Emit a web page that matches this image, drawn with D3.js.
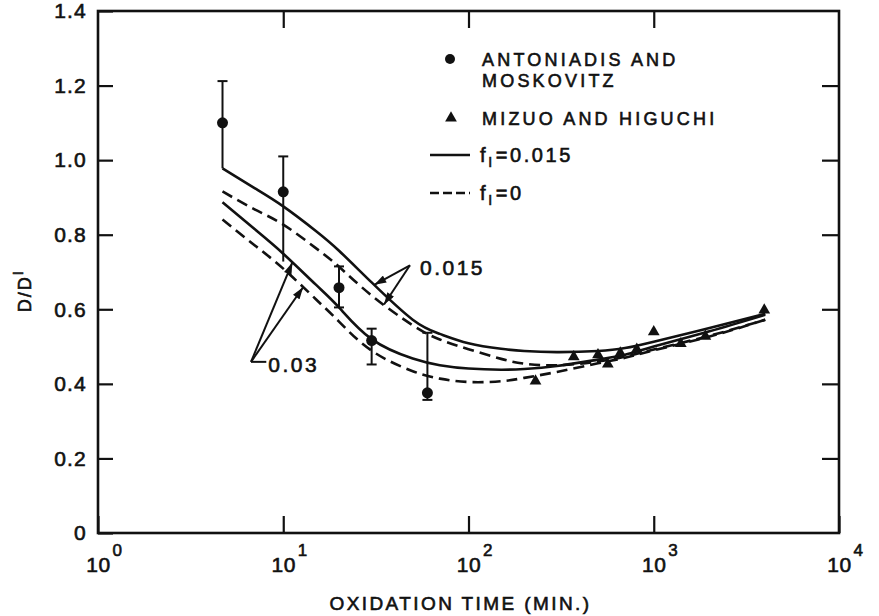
<!DOCTYPE html>
<html>
<head>
<meta charset="utf-8">
<script src="https://cdn.jsdelivr.net/npm/d3@7"></script>
<style>
    body { margin: 0; background: #fff; }
    text { font-family: "Liberation Sans", Arial, sans-serif; fill: #111; stroke: #111; stroke-width: 0.6; }
</style>
</head>
<body>
<div id="chart-area"></div>
<script>
// oxidation time (min.) at which the model curves are sampled
const times = [4.7, 7, 10, 15, 20, 30, 50, 70, 100, 150, 200, 300, 500, 700, 1000, 2000, 4000];

// model curves
const solid015 = [0.978, 0.925, 0.876, 0.810, 0.757, 0.672, 0.572, 0.534, 0.509, 0.494, 0.488, 0.485, 0.488, 0.496, 0.513, 0.550, 0.588];
const dashed015 = [0.916, 0.868, 0.827, 0.764, 0.714, 0.637, 0.557, 0.519, 0.493, 0.467, 0.454, 0.450, 0.460, 0.473, 0.492, 0.529, 0.572];
const solid03 = [0.887, 0.815, 0.749, 0.666, 0.605, 0.520, 0.468, 0.450, 0.441, 0.438, 0.440, 0.448, 0.465, 0.478, 0.500, 0.541, 0.585];
const dashed03 = [0.841, 0.772, 0.709, 0.627, 0.567, 0.489, 0.434, 0.414, 0.405, 0.407, 0.416, 0.432, 0.455, 0.470, 0.490, 0.527, 0.572];

// Antoniadis and Moskovitz, with error bars
const amTimes = [4.7, 10, 20, 30, 60];
const amValues = [1.10, 0.915, 0.658, 0.516, 0.376];
const amHigh = [1.212, 1.010, 0.715, 0.548, 0.537];
const amLow = [0.978, 0.728, 0.605, 0.452, 0.357];
const amLowCap = [false, false, true, true, true];

// Mizuo and Higuchi
const mhTimes = [230, 370, 500, 565, 660, 810, 1000, 1400, 1900, 3950];
const mhValues = [0.405, 0.470, 0.475, 0.450, 0.480, 0.490, 0.537, 0.505, 0.525, 0.595];

const yTicks = [0, 0.2, 0.4, 0.6, 0.8, 1.0, 1.2, 1.4];
const xTicks = [1, 10, 100, 1000, 10000];
const xExponents = ['0', '1', '2', '3', '4'];

window.addEventListener('DOMContentLoaded', () => {

    const margin = { top: 11, right: 40, bottom: 83, left: 98 };
    const width = 879 - margin.left - margin.right;
    const height = 616 - margin.top - margin.bottom;

    const svg = d3.select('#chart-area')
        .append('svg')
        .attr('width', 879)
        .attr('height', 616);

    svg.append('defs').append('marker')
        .attr('id', 'arrow')
        .attr('viewBox', '0 0 12 8')
        .attr('refX', 12)
        .attr('refY', 4)
        .attr('markerWidth', 13)
        .attr('markerHeight', 8)
        .attr('markerUnits', 'userSpaceOnUse')
        .attr('orient', 'auto')
        .append('path')
            .attr('d', 'M0,0 L12,4 L0,8 Z')
            .attr('fill', '#111');

    const chart = svg.append('g')
        .attr('transform', `translate(${margin.left},${margin.top})`);

    const x = d3.scaleLog().domain([1, 1e4]).range([0, width]);
    const y = d3.scaleLinear().domain([0, 1.4]).range([height, 0]);

    // axes, ticks pointing inward
    const yFmt = (d) => d === 0 ? '0' : d3.format('.1f')(d);

    const left = chart.append('g')
        .call(d3.axisLeft(y).tickValues(yTicks).tickSizeInner(-15).tickSizeOuter(0).tickPadding(11).tickFormat(yFmt));
    left.selectAll('text').attr('font-size', 21).attr('letter-spacing', 1.2).attr('fill', '#111');

    chart.append('g')
        .attr('transform', `translate(${width},0)`)
        .call(d3.axisRight(y).tickValues(yTicks.slice(1, -1)).tickSizeInner(-17).tickSizeOuter(0).tickFormat(''));

    const bottom = chart.append('g')
        .attr('transform', `translate(0,${height})`)
        .call(d3.axisBottom(x).tickValues(xTicks).tickSizeInner(-17).tickSizeOuter(0).tickFormat(''));

    chart.append('g')
        .call(d3.axisTop(x).tickValues(xTicks.slice(1, -1)).tickSizeInner(-17).tickSizeOuter(0).tickFormat(''));

    chart.selectAll('.domain').remove();
    chart.selectAll('.tick line').attr('stroke', '#111').attr('stroke-width', 2.2);

    bottom.selectAll('.tick').each(function (d, i) {
        const t = d3.select(this);
        t.append('text')
            .attr('y', 39)
            .attr('text-anchor', 'middle')
            .attr('font-size', 21)
            .attr('letter-spacing', 0.5)
            .text('10');
        t.append('text')
            .attr('x', 14)
            .attr('y', 23)
            .attr('text-anchor', 'start')
            .attr('font-size', 17)
            .text(xExponents[i]);
    });

    chart.append('rect')
        .attr('width', width)
        .attr('height', height)
        .attr('fill', 'none')
        .attr('stroke', '#111')
        .attr('stroke-width', 2.6);

    // axis titles
    chart.append('text')
        .attr('x', width / 2 - 8)
        .attr('y', height + 77)
        .attr('text-anchor', 'middle')
        .attr('font-size', 19)
        .attr('letter-spacing', 2.4)
        .text('OXIDATION TIME (MIN.)');

    const yTitle = chart.append('text')
        .attr('transform', `translate(${-67},${y(0.65)}) rotate(-90)`)
        .attr('text-anchor', 'middle')
        .attr('font-size', 18)
        .attr('letter-spacing', 2);
    yTitle.append('tspan').text('D/D');
    yTitle.append('tspan').attr('dy', -8).attr('font-size', 15).text('I');

    // model curves
    const series = [
        { values: solid015, dash: null },
        { values: dashed015, dash: '11,6' },
        { values: solid03, dash: null },
        { values: dashed03, dash: '11,6' }
    ];

    const line = d3.line()
        .x((d) => x(d[0]))
        .y((d) => y(d[1]))
        .curve(d3.curveNatural);

    chart.selectAll('.curve')
        .data(series)
        .enter()
        .append('path')
            .attr('class', 'curve')
            .attr('d', (s) => line(times.map((t, i) => [t, s.values[i]])))
            .attr('fill', 'none')
            .attr('stroke', '#111')
            .attr('stroke-width', 2.6)
            .attr('stroke-dasharray', (s) => s.dash);

    // error bars and points
    const am = amTimes.map((t, i) => ({ t: t, v: amValues[i], hi: amHigh[i], lo: amLow[i], cap: amLowCap[i] }));

    const bars = chart.selectAll('.bar')
        .data(am)
        .enter()
        .append('g')
            .attr('class', 'bar')
            .attr('stroke', '#111')
            .attr('stroke-width', 2);

    bars.append('line')
        .attr('x1', (d) => x(d.t)).attr('x2', (d) => x(d.t))
        .attr('y1', (d) => y(d.hi)).attr('y2', (d) => y(d.lo));
    bars.append('line')
        .attr('x1', (d) => x(d.t) - 5).attr('x2', (d) => x(d.t) + 5)
        .attr('y1', (d) => y(d.hi)).attr('y2', (d) => y(d.hi));
    bars.filter((d) => d.cap).append('line')
        .attr('x1', (d) => x(d.t) - 5).attr('x2', (d) => x(d.t) + 5)
        .attr('y1', (d) => y(d.lo)).attr('y2', (d) => y(d.lo));

    chart.selectAll('.am')
        .data(am)
        .enter()
        .append('circle')
            .attr('class', 'am')
            .attr('cx', (d) => x(d.t))
            .attr('cy', (d) => y(d.v))
            .attr('r', 5.5)
            .attr('fill', '#111');

    const tri = d3.symbol().type(d3.symbolTriangle).size(60);

    chart.selectAll('.mh')
        .data(mhTimes)
        .enter()
        .append('path')
            .attr('class', 'mh')
            .attr('d', tri)
            .attr('transform', (t, i) => `translate(${x(t)},${y(mhValues[i]) - 1})`)
            .attr('fill', '#111');

    // labels with arrows pointing at the curve pairs
    const at = (vals, t) => {
        const lt = Math.log10(t);
        for (let i = 1; i < times.length; i++) {
            if (t <= times[i]) {
                const a = Math.log10(times[i - 1]), b = Math.log10(times[i]);
                return vals[i - 1] + (vals[i] - vals[i - 1]) * (lt - a) / (b - a);
            }
        }
        return vals[vals.length - 1];
    };

    const drawNote = (label, origin, textPos, targets, stub) => {
        targets.forEach((tg) => {
            chart.append('line')
                .attr('x1', x(origin[0])).attr('y1', y(origin[1]))
                .attr('x2', x(tg[1])).attr('y2', y(at(tg[0], tg[1])))
                .attr('stroke', '#111')
                .attr('stroke-width', 2)
                .attr('marker-end', 'url(#arrow)');
        });
        if (stub) {
            chart.append('line')
                .attr('x1', x(origin[0])).attr('y1', y(origin[1]))
                .attr('x2', x(stub)).attr('y2', y(origin[1]))
                .attr('stroke', '#111')
                .attr('stroke-width', 2);
        }
        chart.append('text')
            .attr('x', x(textPos[0]))
            .attr('y', y(textPos[1]))
            .attr('font-size', 21)
            .attr('letter-spacing', 2.5)
            .text(label);
    };

    drawNote('0.015', [48.3, 0.718], [54.7, 0.693], [[solid015, 31], [dashed015, 35]], null);
    drawNote('0.03', [6.7, 0.459], [8.3, 0.432], [[solid03, 11.2], [dashed03, 12.8]], 8.1);

    // legend
    const legend = chart.append('g')
        .attr('transform', 'translate(332,0)');

    legend.append('circle').attr('cx', 20).attr('cy', 48).attr('r', 5).attr('fill', '#111');
    legend.append('path').attr('d', tri).attr('transform', 'translate(21,107)').attr('fill', '#111');
    legend.append('line').attr('x1', 0).attr('x2', 40).attr('y1', 144).attr('y2', 144)
        .attr('stroke', '#111').attr('stroke-width', 2.6);
    legend.append('line').attr('x1', 0).attr('x2', 40).attr('y1', 182).attr('y2', 182)
        .attr('stroke', '#111').attr('stroke-width', 2.6).attr('stroke-dasharray', '9,4');

    const legendText = [
        ['ANTONIADIS AND', 55],
        ['MOSKOVITZ', 76],
        ['MIZUO AND HIGUCHI', 114]
    ];
    legendText.forEach((l) => {
        legend.append('text')
            .attr('x', 52)
            .attr('y', l[1])
            .attr('font-size', 18)
            .attr('letter-spacing', 3.2)
            .text(l[0]);
    });

    const fLabels = [['=0.015', 151], ['=0', 189]];
    fLabels.forEach((l) => {
        const t = legend.append('text')
            .attr('x', 50)
            .attr('y', l[1])
            .attr('font-size', 20)
            .attr('letter-spacing', 2.6);
        t.append('tspan').text('f');
        t.append('tspan').attr('dy', 5).attr('font-size', 14).text('I');
        t.append('tspan').attr('dy', -5).attr('dx', 1).text(l[0]);
    });

});
</script>
</body>
</html>
